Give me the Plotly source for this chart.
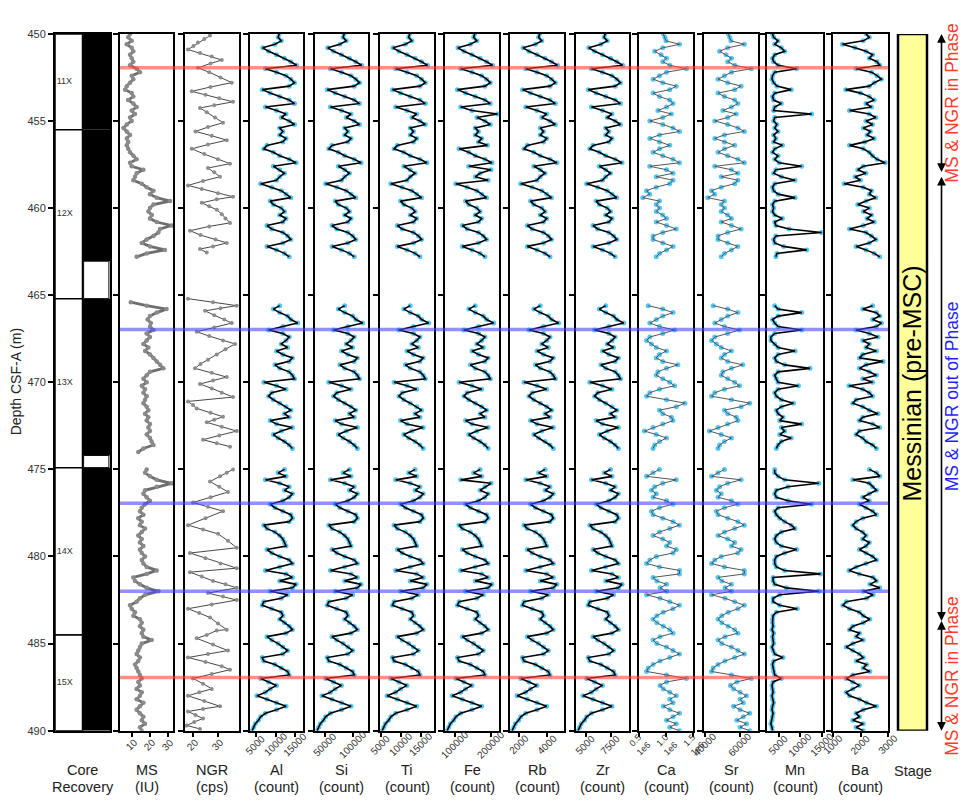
import numpy as np
import plotly.graph_objects as go

W, H = 963, 802
Y_TOP_PX, Y_BOT_PX = 28.3, 735.7
PX_PER_M = (Y_BOT_PX - Y_TOP_PX) / 40.0

# ---------------- depth sampling grids (m CSF-A) ----------------
d_A = np.round(np.arange(450.0, 462.8001, 0.2), 1)
d_B = np.round(np.arange(465.6, 473.8001, 0.2), 1)
d_C = np.round(np.arange(475.0, 490.0001, 0.2), 1)
ms_d_B = np.round(np.arange(465.4, 474.0001, 0.2), 1)

# ---------------- core recovery ----------------
core_names = ["11X", "12X", "13X", "14X", "15X"]
core_top = [450.0, 455.5, 465.2, 474.9, 484.5]
core_bottom = [455.5, 465.2, 474.9, 484.5, 490.0]
recovered_bottom = [455.5, 463.05, 474.2, 484.5, 490.0]

# ---------------- MS (IU) ----------------
ms_A = [9.1, 8.1, 10.0, 7.3, 10.0, 10.9, 9.1, 10.0, 10.9, 9.1, 12.7, 14.5, 10.0, 10.9, 9.1, 7.3, 6.4, 10.0, 10.9, 8.1,
        10.9, 12.7, 10.0, 11.8, 9.1, 10.0, 7.3, 5.5, 7.3, 9.1, 7.3, 8.1, 7.3, 8.1, 9.1, 10.9, 12.7, 9.1, 10.0, 16.4,
        12.7, 11.8, 10.9, 15.5, 18.2, 21.9, 20.0, 23.7, 31.0, 21.9, 20.0, 19.1, 21.0, 20.0, 23.7, 31.9, 25.5, 24.6, 21.9, 18.2,
        15.5, 20.0, 28.2, 18.2, 12.7]
ms_B = [9.5, 18.2, 29.1, 23.7, 20.0, 18.7, 20.5, 20.0, 21.9, 18.2, 20.0, 18.2, 16.4, 19.1, 17.3, 20.0, 21.9, 23.7, 25.5, 27.3,
        20.0, 18.2, 16.4, 18.2, 15.5, 17.3, 16.4, 18.2, 17.3, 16.4, 18.2, 19.1, 17.3, 19.1, 18.2, 20.0, 19.1, 20.0, 18.2, 20.0,
        20.9, 21.9, 16.4, 13.6]
ms_C = [18.2, 17.3, 20.0, 23.7, 31.9, 23.7, 17.3, 16.4, 18.2, 20.0, 17.3, 15.5, 14.5, 16.4, 13.6, 15.5, 14.5, 17.3, 15.5, 13.6,
        15.5, 14.5, 16.4, 14.5, 15.5, 17.3, 15.5, 16.4, 18.2, 23.7, 18.2, 10.9, 11.8, 14.5, 18.2, 24.6, 17.3, 14.5, 12.7, 9.1,
        10.0, 11.8, 10.9, 14.5, 15.5, 14.5, 16.4, 15.5, 16.4, 20.9, 15.5, 14.5, 13.6, 12.7, 14.5, 13.6, 11.8, 12.7, 13.6, 14.5,
        15.5, 13.6, 14.5, 12.7, 15.5, 14.5, 12.7, 16.4, 14.5, 12.7, 14.5, 16.4, 15.5, 17.3, 14.5, 15.5]

# ---------------- NGR (cps) ----------------
ngr_d_A = [450.1, 450.3, 450.5, 450.7, 450.9, 451.1, 451.3, 451.5, 451.7, 451.95, 452.2, 452.5, 452.8, 453.05, 453.3,
           453.5, 453.7, 453.9, 454.1, 454.25, 454.5, 454.8, 455.1, 455.35, 455.6, 455.85, 456.1, 456.35, 456.6, 456.9,
           457.2, 457.45, 457.7, 457.95, 458.2, 458.45, 458.7, 458.9, 459.15, 459.35, 459.5, 459.7, 459.9, 460.1, 460.35,
           460.6, 460.85, 461.05, 461.3, 461.55, 461.8, 462.0, 462.2, 462.35, 462.55]
ngr_A = [26.8, 24.5, 22.0, 20.2, 18.0, 22.8, 27.5, 31.5, 27.0, 22.0, 26.5, 31.0, 35.5, 27.0, 19.5,
         25.0, 30.5, 36.0, 28.5, 22.8, 25.5, 28.8, 32.0, 26.0, 21.0, 27.5, 33.5, 26.0, 19.5, 24.5,
         30.0, 34.8, 26.0, 28.5, 30.8, 24.0, 18.0, 23.5, 30.0, 36.0, 29.5, 23.5, 26.5, 29.5, 31.5,
         33.0, 34.8, 26.5, 18.8, 23.0, 29.0, 33.5, 28.0, 22.8, 25.5]
ngr_d_B = [465.2, 465.4, 465.6, 465.75, 465.9, 466.15, 466.4, 466.6, 466.85, 467.1, 467.35, 467.6, 467.8, 468.1, 468.4,
           468.7, 468.95, 469.2, 469.45, 469.7, 469.9, 470.1, 470.35, 470.6, 470.85, 471.1, 471.3, 471.5, 471.75, 471.98,
           472.15, 472.3, 472.55, 472.8, 473.05, 473.3, 473.5, 473.7]
ngr_B = [18.0, 28.0, 37.5, 31.0, 24.8, 28.5, 32.5, 35.5, 28.5, 21.5, 26.5, 32.0, 36.8, 33.0, 29.5,
         26.0, 23.0, 20.8, 27.5, 33.5, 28.0, 22.8, 27.5, 31.5, 36.0, 18.0, 20.0, 21.5, 27.0, 32.0,
         28.5, 25.5, 31.5, 37.5, 30.5, 24.0, 29.5, 34.8]
ngr_d_C = [475.0, 475.2, 475.4, 475.7, 476.0, 476.3, 476.6, 476.9, 477.15, 477.4, 477.8, 478.2, 478.45, 478.7, 479.1,
           479.5, 479.8, 480.1, 480.4, 480.67, 480.9, 481.15, 481.4, 481.6, 481.8, 482.1, 482.3, 482.5, 482.75, 483.0,
           483.25, 483.5, 483.85, 484.2, 484.25, 484.5, 484.7, 485.05, 485.4, 485.6, 485.8, 486.05, 486.3, 486.5, 486.75,
           487.0, 487.3, 487.6, 487.8, 488.0, 488.3, 488.6, 488.75, 488.9, 489.1, 489.3, 489.5, 489.7, 489.9]
ngr_C = [36.0, 33.5, 30.8, 26.8, 30.5, 34.0, 27.0, 20.0, 26.0, 32.0, 25.0, 18.0, 24.0, 30.0, 34.0,
         37.5, 18.8, 25.0, 31.0, 37.5, 18.8, 23.5, 28.0, 33.0, 37.5, 26.0, 32.0, 37.5, 27.5, 18.0,
         22.5, 26.8, 30.0, 33.5, 29.5, 25.5, 21.5, 28.0, 34.0, 26.0, 18.0, 25.0, 31.5, 34.8, 27.5,
         20.0, 24.0, 27.5, 22.5, 18.0, 24.5, 30.8, 24.0, 18.0, 21.0, 24.0, 20.5, 17.5, 22.8]

# ---------------- XRF (counts) ----------------
al_A = [10930, 10660, 11470, 9850, 6740, 8230, 10250, 12280, 13900, 15380, 7420, 10250, 12680, 13900, 14840, 13490, 6610, 8630,
        11060, 13490, 14840, 7420, 10250, 12680, 11470, 13490, 14840, 11060, 11870, 11060, 12680, 11870, 7820, 7010, 9440, 11060,
        13490, 15250, 9440, 11060, 12280, 11060, 10250, 6200, 9040, 11470, 12680, 13900, 8630, 9440, 11470, 12280, 11060, 12680,
        11870, 7820, 9040, 11870, 13090, 13900, 11870, 7820, 10250, 12280, 13490]
al_B = [11060, 9440, 11060, 13090, 13900, 15650, 11870, 8230, 11870, 13490, 12680, 11470, 13090, 10250, 11870, 14300, 13490, 9850,
        11060, 13490, 14300, 14840, 7010, 10250, 12680, 9040, 8230, 9440, 11060, 12680, 13900, 12280, 13490, 8630, 10250, 14300,
        11470, 9440, 10660, 12280, 13490, 14300]
al_C = [12280, 10660, 12680, 7420, 11060, 13490, 12280, 14300, 13490, 11870, 8630, 9850, 11870, 13900, 14300, 13490, 7010, 7820,
        9850, 11060, 11870, 12280, 12680, 7820, 9040, 11060, 13490, 14300, 11060, 7420, 12680, 14300, 11060, 15250, 14300, 8630,
        13090, 11470, 7010, 6610, 9040, 11470, 11870, 11060, 12280, 13490, 14300, 12680, 7820, 9040, 10660, 11870, 13090, 11870,
        6610, 7010, 9850, 11470, 13090, 13490, 6200, 8230, 10250, 8630, 7420, 5260, 7820, 10250, 12680, 10250, 7420, 6200,
        5660, 4850, 4450, 4040]

si_A = [84250, 82350, 88050, 76650, 54800, 65250, 79500, 93750, 105150, 115600, 59550, 79500, 96600, 105150, 111800, 102300,
        53850, 68100, 85200, 102300, 111800, 59550, 79500, 96600, 88050, 102300, 111800, 85200, 90900, 85200, 96600, 90900,
        62400, 56700, 73800, 85200, 102300, 114650, 73800, 85200, 93750, 85200, 79500, 51000, 70950, 88050, 96600, 105150,
        68100, 73800, 88050, 93750, 85200, 96600, 90900, 62400, 70950, 90900, 99450, 105150, 90900, 62400, 79500, 93750, 102300]
si_B = [85200, 73800, 85200, 99450, 105150, 117500, 90900, 65250, 90900, 102300, 96600, 88050, 99450, 79500, 90900, 108000,
        102300, 76650, 85200, 102300, 108000, 111800, 56700, 79500, 96600, 70950, 65250, 73800, 85200, 96600, 105150, 93750,
        102300, 68100, 79500, 108000, 88050, 73800, 82350, 93750, 102300, 108000]
si_C = [93750, 82350, 96600, 59550, 85200, 102300, 93750, 108000, 102300, 90900, 68100, 76650, 90900, 105150, 108000, 102300,
        56700, 62400, 76650, 85200, 90900, 93750, 96600, 62400, 70950, 85200, 102300, 108000, 85200, 59550, 96600, 108000,
        85200, 114650, 108000, 68100, 99450, 88050, 56700, 53850, 70950, 88050, 90900, 85200, 93750, 102300, 108000, 96600,
        62400, 70950, 82350, 90900, 99450, 90900, 53850, 56700, 76650, 88050, 99450, 102300, 51000, 65250, 79500, 68100,
        59550, 44350, 62400, 79500, 96600, 79500, 59550, 51000, 47200, 41500, 38650, 35800]

ti_A = [12230, 11960, 12770, 11150, 8040, 9530, 11550, 13580, 15200, 16680, 8720, 11550, 13980, 15200, 16140, 14790, 7910, 9930,
        12360, 14790, 16140, 8720, 11550, 13980, 12770, 14790, 16140, 12360, 13170, 12360, 13980, 13170, 9120, 8310, 10740, 12360,
        14790, 16550, 10740, 12360, 13580, 12360, 11550, 7500, 10340, 12770, 13980, 15200, 9930, 10740, 12770, 13580, 12360, 13980,
        13170, 9120, 10340, 13170, 14390, 15200, 13170, 9120, 11550, 13580, 14790]
ti_B = [12360, 10740, 12360, 14390, 15200, 16950, 13170, 9530, 13170, 14790, 13980, 12770, 14390, 11550, 13170, 15600, 14790, 11150,
        12360, 14790, 15600, 16140, 8310, 11550, 13980, 10340, 9530, 10740, 12360, 13980, 15200, 13580, 14790, 9930, 11550, 15600,
        12770, 10740, 11960, 13580, 14790, 15600]
ti_C = [13580, 11960, 13980, 8720, 12360, 14790, 13580, 15600, 14790, 13170, 9930, 11150, 13170, 15200, 15600, 14790, 8310, 9120,
        11150, 12360, 13170, 13580, 13980, 9120, 10340, 12360, 14790, 15600, 12360, 8720, 13980, 15600, 12360, 16550, 15600, 9930,
        14390, 12770, 8310, 7910, 10340, 12770, 13170, 12360, 13580, 14790, 15600, 13980, 9120, 10340, 11960, 13170, 14390, 13170,
        7910, 8310, 11150, 12770, 14390, 14790, 7500, 9530, 11550, 9930, 8720, 6560, 9120, 11550, 13980, 11550, 8720, 7500,
        6960, 6150, 5750, 5340]

fe_A = [154500, 151500, 160500, 142500, 108000, 124500, 147000, 169500, 187500, 204000, 115500, 147000, 174000, 187500, 198000,
        183000, 106500, 129000, 156000, 183000, 198000, 115500, 147000, 218000, 160500, 183000, 198000, 156000, 165000, 156000,
        174000, 165000, 190000, 111000, 138000, 156000, 183000, 202500, 138000, 200000, 169500, 156000, 192000, 102000, 133500,
        160500, 174000, 187500, 129000, 138000, 160500, 169500, 156000, 174000, 165000, 120000, 133500, 165000, 178500, 187500,
        165000, 120000, 147000, 169500, 183000]
fe_B = [156000, 138000, 156000, 178500, 187500, 207000, 165000, 124500, 165000, 183000, 174000, 160500, 178500, 147000, 165000,
        192000, 183000, 142500, 156000, 183000, 192000, 198000, 111000, 147000, 174000, 133500, 124500, 138000, 156000, 174000,
        187500, 169500, 183000, 129000, 147000, 192000, 160500, 138000, 151500, 169500, 183000, 192000]
fe_C = [169500, 151500, 174000, 115500, 200000, 183000, 169500, 192000, 183000, 165000, 129000, 142500, 165000, 187500, 192000,
        183000, 111000, 120000, 142500, 156000, 165000, 169500, 174000, 120000, 133500, 156000, 183000, 192000, 156000, 115500,
        174000, 192000, 156000, 202500, 192000, 129000, 178500, 160500, 111000, 106500, 133500, 160500, 165000, 156000, 169500,
        183000, 192000, 174000, 120000, 133500, 151500, 165000, 178500, 165000, 106500, 111000, 142500, 160500, 178500, 183000,
        102000, 124500, 147000, 129000, 115500, 91500, 120000, 147000, 174000, 147000, 115500, 102000, 96000, 87000, 82500, 78000]

rb_A = [3460, 3380, 3610, 3160, 2280, 2700, 3270, 3840, 4300, 4720, 2470, 3270, 3960, 4300, 4570, 4190, 2240, 2810, 3500, 4190,
        4570, 2470, 3270, 3960, 3610, 4190, 4570, 3500, 3730, 3500, 3960, 3730, 2580, 2350, 3040, 3500, 4190, 4680, 3040, 3500,
        3840, 3500, 3270, 2120, 2930, 3610, 3960, 4300, 2810, 3040, 3610, 3840, 3500, 3960, 3730, 2580, 2930, 3730, 4070, 4300,
        3730, 2580, 3270, 3840, 4190]
rb_B = [3500, 3040, 3500, 4070, 4300, 4800, 3730, 2700, 3730, 4190, 3960, 3610, 4070, 3270, 3730, 4420, 4190, 3160, 3500, 4190,
        4420, 4570, 2350, 3270, 3960, 2930, 2700, 3040, 3500, 3960, 4300, 3840, 4190, 2810, 3270, 4420, 3610, 3040, 3380, 3840,
        4190, 4420]
rb_C = [3840, 3380, 3960, 2470, 3500, 4190, 3840, 4420, 4190, 3730, 2810, 3160, 3730, 4300, 4420, 4190, 2350, 2580, 3160, 3500,
        3730, 3840, 3960, 2580, 2930, 3500, 4190, 4420, 3500, 2470, 3960, 4420, 3500, 4680, 4420, 2810, 4070, 3610, 2350, 2240,
        2930, 3610, 3730, 3500, 3840, 4190, 4420, 3960, 2580, 2930, 3380, 3730, 4070, 3730, 2240, 2350, 3160, 3610, 4070, 4190,
        2120, 2700, 3270, 2810, 2470, 1860, 2580, 3270, 3960, 3270, 2470, 2120, 1970, 1740, 1630, 1510]

zr_A = [6950, 6840, 7160, 6520, 5300, 5890, 6680, 7480, 8110, 8690, 5570, 6680, 7630, 8110, 8480, 7950, 5250, 6040, 7000, 7950,
        8480, 5570, 6680, 7630, 7160, 7950, 8480, 7000, 7320, 7000, 7630, 7320, 5730, 5410, 6360, 7000, 7950, 8640, 6360, 7000,
        7480, 7000, 6680, 5090, 6200, 7160, 7630, 8110, 6040, 6360, 7160, 7480, 7000, 7630, 7320, 5730, 6200, 7320, 7790, 8110,
        7320, 5730, 6680, 7480, 7950]
zr_B = [7000, 6360, 7000, 7790, 8110, 8800, 7320, 5890, 7320, 7950, 7630, 7160, 7790, 6680, 7320, 8270, 7950, 6520, 7000, 7950,
        8270, 8480, 5410, 6680, 7630, 6200, 5890, 6360, 7000, 7630, 8110, 7480, 7950, 6040, 6680, 8270, 7160, 6360, 6840, 7480,
        7950, 8270]
zr_C = [7480, 6840, 7630, 5570, 7000, 7950, 7480, 8270, 7950, 7320, 6040, 6520, 7320, 8110, 8270, 7950, 5410, 5730, 6520, 7000,
        7320, 7480, 7630, 5730, 6200, 7000, 7950, 8270, 7000, 5570, 7630, 8270, 7000, 8640, 8270, 6040, 7790, 7160, 5410, 5250,
        6200, 7160, 7320, 7000, 7480, 7950, 8270, 7630, 5730, 6200, 6840, 7320, 7790, 7320, 5250, 5410, 6520, 7160, 7790, 7950,
        5090, 5890, 6680, 6040, 5570, 4720, 5730, 6680, 7630, 6680, 5570, 5090, 4880, 4560, 4400, 4240]

ca_A = [950000, 980000, 1000000, 1250000, 940000, 790000, 910000, 1010000, 940000, 1070000, 1380000, 1010000, 880000, 760000,
        940000, 1190000, 1070000, 760000, 880000, 1070000, 1130000, 1010000, 850000, 1100000, 940000, 700000, 940000, 1130000,
        1250000, 880000, 700000, 880000, 1070000, 880000, 760000, 940000, 1130000, 1250000, 700000, 1010000, 1130000, 820000,
        1130000, 1070000, 820000, 640000, 700000, 570000, 880000, 820000, 880000, 820000, 940000, 1010000, 820000, 1010000,
        1190000, 940000, 760000, 760000, 940000, 1130000, 1010000, 880000, 820000]
ca_B = [670000, 940000, 1130000, 940000, 820000, 700000, 880000, 1160000, 940000, 700000, 640000, 730000, 820000, 1010000,
        880000, 820000, 940000, 1220000, 1010000, 850000, 820000, 940000, 1070000, 1160000, 880000, 700000, 640000, 1010000,
        1350000, 1190000, 880000, 940000, 1100000, 1130000, 940000, 760000, 600000, 820000, 1010000, 880000, 790000, 760000]
ca_C = [880000, 760000, 640000, 1190000, 940000, 790000, 730000, 820000, 760000, 1010000, 1130000, 880000, 730000, 760000,
        940000, 1130000, 1250000, 1070000, 880000, 760000, 940000, 1070000, 1010000, 1190000, 1130000, 820000, 700000, 640000,
        880000, 1250000, 1250000, 760000, 830000, 1010000, 890000, 1010000, 640000, 890000, 1070000, 1250000, 1130000, 950000,
        830000, 760000, 830000, 950000, 1070000, 1130000, 890000, 760000, 830000, 1010000, 1130000, 1250000, 1070000, 890000,
        760000, 670000, 640000, 1010000, 1380000, 1010000, 890000, 950000, 1070000, 1190000, 1070000, 1130000, 950000, 1070000,
        1250000, 1130000, 1010000, 1190000, 1070000, 1250000]

sr_A = [53260, 54180, 54800, 62500, 52950, 48330, 52030, 55110, 52950, 56960, 66500, 55110, 51100, 47410, 52950, 60650, 56960,
        47410, 51100, 56960, 58800, 55110, 50180, 57880, 52950, 45560, 52950, 58800, 62500, 51100, 45560, 51100, 56960, 51100,
        47410, 52950, 58800, 62500, 45560, 55110, 58800, 49260, 58800, 56960, 49260, 43710, 45560, 41560, 51100, 49260, 51100,
        49260, 52950, 55110, 49260, 55110, 60650, 52950, 47410, 47410, 52950, 58800, 55110, 51100, 49260]
sr_B = [44640, 52950, 58800, 52950, 49260, 45560, 51100, 59730, 52950, 45560, 43710, 46480, 49260, 55110, 51100, 49260, 52950,
        61580, 55110, 50180, 49260, 52950, 56960, 59730, 51100, 45560, 43710, 55110, 65580, 60650, 51100, 52950, 57880, 58800,
        52950, 47410, 42480, 49260, 55110, 51100, 48330, 47410]
sr_C = [51100, 47410, 43710, 60650, 52950, 48330, 46480, 49260, 47410, 55110, 58800, 51100, 46480, 47410, 52950, 58800, 62500,
        56960, 51100, 47410, 52950, 56960, 55110, 60650, 58800, 49260, 45560, 43710, 51100, 62500, 62500, 47410, 49560, 55110,
        51410, 55110, 43710, 51410, 56960, 62500, 58800, 53260, 49560, 47410, 49560, 53260, 56960, 58800, 51410, 47410, 49560,
        55110, 58800, 62500, 56960, 51410, 47410, 44640, 43710, 55110, 66500, 58190, 54490, 56340, 60040, 63730, 60040, 61880,
        56340, 60040, 65580, 61880, 58190, 63730, 60040, 65580]

mn_A = [3540, 3800, 4820, 4050, 5580, 6340, 4050, 3540, 3800, 4820, 9140, 4050, 3540, 3420, 3800, 4560, 7870, 4050, 3540, 3800,
        5580, 4050, 3800, 12580, 4050, 3800, 4560, 4050, 4820, 3800, 4310, 3800, 5830, 4050, 3540, 4820, 4050, 5070, 10290, 4310,
        3800, 5580, 8760, 4050, 3540, 3800, 4820, 8760, 4050, 3540, 3800, 3540, 4050, 5830, 4050, 4310, 7360, 14870, 4310, 3800,
        4050, 6090, 11440, 4560, 4310]
mn_B = [4050, 4820, 10290, 4820, 3540, 4050, 4820, 10290, 4050, 3160, 3160, 4050, 4820, 8760, 4820, 4050, 4430, 6340, 12200,
        4820, 4050, 4430, 4820, 9530, 4820, 4050, 4430, 5580, 8380, 5580, 4430, 4820, 5960, 5200, 10290, 5580, 6340, 5200, 7870,
        5580, 4820, 4430]
mn_C = [4050, 4050, 4820, 6340, 14240, 7110, 4430, 4050, 4430, 7110, 12580, 4820, 4050, 4430, 5200, 6340, 7870, 8760, 5580,
        4430, 4050, 4430, 5580, 9140, 6340, 4430, 4050, 4050, 4430, 6340, 14620, 3670, 3670, 4050, 6730, 14240, 5200, 3670, 3670,
        5200, 9270, 4430, 3670, 3540, 3540, 3670, 3420, 3800, 3540, 3670, 3800, 3420, 3670, 4050, 5960, 3800, 3540, 3670, 3800,
        4050, 5580, 3670, 3420, 3540, 3670, 3420, 3540, 3800, 3540, 3420, 3670, 3540, 3420, 3160, 3420, 3540]

ba_A = [2200, 2320, 2100, 1340, 1800, 2200, 2440, 2320, 2600, 2700, 1840, 2400, 2600, 2760, 2500, 2320, 1460, 2000, 2320, 2500,
        2200, 2400, 1600, 2320, 2560, 2200, 2440, 2100, 2360, 2240, 2500, 2160, 1600, 2100, 2320, 2440, 2600, 2900, 2100, 1900,
        2200, 1800, 2000, 1400, 2100, 2400, 2320, 2560, 2200, 1900, 2320, 2100, 2400, 2240, 2500, 2100, 1600, 2200, 2400, 2560,
        2320, 1840, 2200, 2500, 2700]
ba_B = [2440, 2080, 2580, 2700, 2440, 2760, 2580, 1840, 2320, 2640, 2080, 2320, 2200, 2580, 2080, 1960, 2820, 2200, 1960, 2320,
        2580, 2080, 2440, 1580, 2080, 2320, 2440, 1840, 1720, 2080, 2320, 2640, 2080, 1960, 2440, 2700, 1960, 1840, 2080, 2200,
        2440, 2580]
ba_C = [2320, 2580, 2700, 1720, 2320, 2440, 2580, 2320, 2080, 2320, 1960, 2200, 2440, 2580, 2080, 1840, 1720, 1840, 2080, 2200,
        2080, 2320, 2200, 1960, 2200, 2440, 2580, 2200, 1840, 1580, 1960, 2460, 2580, 2340, 2700, 2100, 2460, 2220, 1480, 1360,
        1600, 1960, 2100, 2340, 2100, 1720, 1600, 1960, 1840, 2100, 1720, 1480, 1720, 1960, 2100, 1840, 2220, 2100, 2340, 1720,
        1480, 1720, 1960, 1720, 1480, 1600, 1960, 2220, 2580, 2100, 1840, 1960, 1720, 2100, 1840, 2100]

# ---------------- markers of MS/NGR phase relation ----------------
red_lines = [451.95, 486.95]
blue_lines = [466.97, 476.95, 482.0]
phase_top = [450.0, 458.2, 483.7]
phase_bottom = [457.9, 483.4, 490.0]
phase_text = ["MS & NGR in Phase", "MS & NGR out of Phase", "MS & NGR in Phase"]
phase_color = ["#ff3b2a", "#1f1fff", "#ff3b2a"]
stage_name = "Messinian (pre-MSC)"

# ---------------- panel definitions ----------------
XRF = [d_A, d_B, d_C]
panels = [
    dict(t1="MS", t2="(IU)", px=(120, 173), rng=[3.6, 32.6], tv=[10, 20, 30], d=[d_A, ms_d_B, d_C], v=[ms_A, ms_B, ms_C], style="ms"),
    dict(t1="NGR", t2="(cps)", px=(185, 239), rng=[16.8, 38.4], tv=[20, 30], d=[ngr_d_A, ngr_d_B, ngr_d_C], v=[ngr_A, ngr_B, ngr_C], style="ngr"),
    dict(t1="Al", t2="(count)", px=(250, 303), rng=[3500, 17000], tv=[5000, 10000, 15000], d=XRF, v=[al_A, al_B, al_C], style="xrf"),
    dict(t1="Si", t2="(count)", px=(315, 368), rng=[32000, 127000], tv=[50000, 100000], d=XRF, v=[si_A, si_B, si_C], style="xrf"),
    dict(t1="Ti", t2="(count)", px=(380, 434), rng=[4800, 18300], tv=[5000, 10000, 15000], d=XRF, v=[ti_A, ti_B, ti_C], style="xrf"),
    dict(t1="Fe", t2="(count)", px=(445, 499), rng=[72000, 222000], tv=[100000, 200000], d=XRF, v=[fe_A, fe_B, fe_C], style="xrf"),
    dict(t1="Rb", t2="(count)", px=(510, 564), rng=[1360, 5180], tv=[2000, 4000], d=XRF, v=[rb_A, rb_B, rb_C], style="xrf"),
    dict(t1="Zr", t2="(count)", px=(576, 629), rng=[4030, 9330], tv=[5000, 7500], d=XRF, v=[zr_A, zr_B, zr_C], style="xrf"),
    dict(t1="Ca", t2="(count)", px=(639, 693), rng=[500000, 1500000], tv=[500000, 1000000, 1500000],
         tt=["0.5<br>1e6", "1.0<br>1e6", "1.5<br>1e6"], tfs=9, d=XRF, v=[ca_A, ca_B, ca_C], style="xrfgray"),
    dict(t1="Sr", t2="(count)", px=(704, 758), rng=[39400, 70300], tv=[40000, 60000], d=XRF, v=[sr_A, sr_B, sr_C], style="xrfgray"),
    dict(t1="Mn", t2="(count)", px=(767, 823), rng=[2270, 15200], tv=[5000, 10000, 15000], d=XRF, v=[mn_A, mn_B, mn_C], style="xrf"),
    dict(t1="Ba", t2="(count)", px=(833, 888), rng=[1000, 3000], tv=[1000, 2000, 3000], d=XRF, v=[ba_A, ba_B, ba_C], style="xrf"),
]
CORE_PX = (55, 110)
STAGE_PX = (898, 927)
LINES_PX = (120, 888)
ARROW_X_PX = 941.5


def xp(px):
    return px / W


def yp(py):
    return 1 - py / H


def joined(ds, vs):
    xs, ys = [], []
    for d, v in zip(ds, vs):
        n = min(len(d), len(v))
        xs.extend([float(a) for a in v[:n]])
        ys.extend([float(a) for a in d[:n]])
        xs.append(None)
        ys.append(None)
    return xs, ys


FONT = "Liberation Sans, Arial, Helvetica, sans-serif"
YDOM = [yp(Y_BOT_PX), yp(Y_TOP_PX)]
CYAN = "#55c6f4"

fig = go.Figure()
layout = dict(width=W, height=H, margin=dict(l=0, r=0, t=0, b=0, pad=0), paper_bgcolor="white", plot_bgcolor="white",
              showlegend=False, font=dict(family=FONT, color="#222"), hovermode=False)
annotations = []
shapes = []

# ---- core recovery panel (axis 1) ----
layout["xaxis"] = dict(domain=[xp(CORE_PX[0]), xp(CORE_PX[1])], range=[0, 2], anchor="y", showticklabels=False,
                       ticks="", showgrid=False, zeroline=False, showline=True, linecolor="black", linewidth=2, mirror=True)
layout["yaxis"] = dict(domain=YDOM, range=[490, 450], anchor="x", tickvals=list(range(450, 491, 5)), ticks="outside",
                       ticklen=5, tickwidth=2, tickcolor="black", tickfont=dict(size=11, color="#333"),
                       showgrid=False, zeroline=False, showline=True, linecolor="black", linewidth=2, mirror=True)
label_y = [(max(t, 450.0) + b) / 2 for t, b in zip(core_top, core_bottom)]
fig.add_trace(go.Scatter(x=[0.06] * len(core_names), y=label_y, text=core_names, mode="text",
                         textposition="middle right", textfont=dict(size=9, color="#333", family=FONT),
                         xaxis="x", yaxis="y", hoverinfo="skip"))
for t, b, r in zip(core_top, core_bottom, recovered_bottom):
    shapes.append(dict(type="rect", xref="x", yref="y", x0=0, x1=1, y0=t, y1=b,
                       line=dict(color="black", width=1.5), fillcolor="white", layer="below"))
    shapes.append(dict(type="rect", xref="x", yref="y", x0=1, x1=2, y0=t, y1=r,
                       line=dict(color="black", width=0), fillcolor="black", layer="above"))
    if r < b:
        shapes.append(dict(type="rect", xref="x", yref="y", x0=1.04, x1=1.96, y0=r, y1=b,
                           line=dict(color="black", width=1), fillcolor="white", layer="above"))

# ---- data panels ----
for i, p in enumerate(panels, start=2):
    xa, ya = f"x{i}", f"y{i}"
    layout[f"xaxis{i}"] = dict(domain=[xp(p["px"][0]), xp(p["px"][1])], range=p["rng"], anchor=ya,
                               tickvals=p["tv"], showticklabels=False, ticks="outside", ticklen=4, tickwidth=1.5,
                               tickcolor="black", showgrid=False, zeroline=False, showline=True, linecolor="black",
                               linewidth=2, mirror=True)
    layout[f"yaxis{i}"] = dict(domain=YDOM, matches="y", range=[490, 450], anchor=xa, tickvals=list(range(450, 491, 5)),
                               showticklabels=False, ticks="outside", ticklen=5, tickwidth=2, tickcolor="black",
                               showgrid=False, zeroline=False, showline=True, linecolor="black", linewidth=2, mirror=True)
    xs, ys = joined(p["d"], p["v"])
    st = p["style"]
    if st == "ms":
        fig.add_trace(go.Scatter(x=xs, y=ys, mode="lines+markers", xaxis=xa, yaxis=ya,
                                 line=dict(color="#6e6e6e", width=2.8), marker=dict(color="#8a8a8a", size=4.5)))
    elif st == "ngr":
        fig.add_trace(go.Scatter(x=xs, y=ys, mode="lines+markers", xaxis=xa, yaxis=ya,
                                 line=dict(color="#333", width=0.9), marker=dict(color="#8c8c8c", size=4)))
    else:
        fig.add_trace(go.Scatter(x=xs, y=ys, mode="markers", xaxis=xa, yaxis=ya,
                                 marker=dict(color=CYAN, size=5)))
        lc, lw = ("black", 1.6) if st == "xrf" else ("#555", 1.0)
        fig.add_trace(go.Scatter(x=xs, y=ys, mode="lines", xaxis=xa, yaxis=ya, line=dict(color=lc, width=lw)))
    # rotated tick labels centred on ticks
    tt = p.get("tt", [str(v) for v in p["tv"]])
    for v, t in zip(p["tv"], tt):
        annotations.append(dict(x=v, xref=xa, y=yp(750), yref="paper", text=t, showarrow=False, textangle=-45,
                                xanchor="center", yanchor="middle",
                                font=dict(size=p.get("tfs", 10), color="#333", family=FONT)))
    cx = (p["px"][0] + p["px"][1]) / 2
    annotations.append(dict(x=xp(cx), y=yp(776), xref="paper", yref="paper", text=p["t1"], showarrow=False,
                            xanchor="center", yanchor="middle", font=dict(size=14.5, color="#222", family=FONT)))
    annotations.append(dict(x=xp(cx), y=yp(792.5), xref="paper", yref="paper", text=p["t2"], showarrow=False,
                            xanchor="center", yanchor="middle", font=dict(size=14.5, color="#222", family=FONT)))

# core title
ccx = (CORE_PX[0] + CORE_PX[1]) / 2
annotations.append(dict(x=xp(ccx), y=yp(776), xref="paper", yref="paper", text="Core", showarrow=False,
                        xanchor="center", yanchor="middle", font=dict(size=14.5, color="#222", family=FONT)))
annotations.append(dict(x=xp(ccx), y=yp(792.5), xref="paper", yref="paper", text="Recovery", showarrow=False,
                        xanchor="center", yanchor="middle", font=dict(size=14.5, color="#222", family=FONT)))
# y axis title
annotations.append(dict(x=xp(16), y=yp(382), xref="paper", yref="paper", text="Depth CSF-A (m)", showarrow=False,
                        textangle=-90, xanchor="center", yanchor="middle", font=dict(size=14, color="#222", family=FONT)))

# stage column
shapes.append(dict(type="rect", xref="paper", yref="y", x0=xp(STAGE_PX[0]), x1=xp(STAGE_PX[1]), y0=450, y1=490,
                   fillcolor="#ffff99", line=dict(color="black", width=2.5), layer="above"))
annotations.append(dict(x=xp((STAGE_PX[0] + STAGE_PX[1]) / 2), y=470.1, xref="paper", yref="y", text=stage_name,
                        showarrow=False, textangle=-90, xanchor="center", yanchor="middle",
                        font=dict(size=25, color="black", family=FONT)))
annotations.append(dict(x=xp((STAGE_PX[0] + STAGE_PX[1]) / 2), y=yp(777), xref="paper", yref="paper", text="Stage",
                        showarrow=False, xanchor="center", yanchor="middle", font=dict(size=14.5, color="#222", family=FONT)))

# horizontal MS/NGR lines
for yv in red_lines:
    shapes.append(dict(type="line", xref="paper", yref="y", x0=xp(LINES_PX[0]), x1=xp(LINES_PX[1]), y0=yv, y1=yv,
                       line=dict(color="rgba(255,70,50,0.6)", width=3.5), layer="above"))
for yv in blue_lines:
    shapes.append(dict(type="line", xref="paper", yref="y", x0=xp(LINES_PX[0]), x1=xp(LINES_PX[1]), y0=yv, y1=yv,
                       line=dict(color="rgba(70,70,255,0.6)", width=3.5), layer="above"))

# phase arrows and texts
for t, b, txt, col in zip(phase_top, phase_bottom, phase_text, phase_color):
    annotations.append(dict(x=xp(ARROW_X_PX), y=t, xref="paper", yref="y", ax=0, ay=(b - t) * PX_PER_M,
                            axref="pixel", ayref="pixel", text="", showarrow=True, arrowhead=2, startarrowhead=2,
                            arrowside="end+start", arrowsize=1.1, arrowwidth=1.6, arrowcolor="black",
                            standoff=0, startstandoff=0))
    annotations.append(dict(x=1.0, y=(t + b) / 2, xref="paper", yref="y", text=txt, showarrow=False,
                            textangle=-90, xanchor="right", yanchor="middle", borderpad=0,
                            font=dict(size=17.5, color=col, family=FONT)))

layout["annotations"] = annotations
layout["shapes"] = shapes
fig.update_layout(**layout)
fig.write_html("out.html", config={"displayModeBar": False},
               post_script="document.body.style.margin='0px';document.body.style.padding='0px';")
